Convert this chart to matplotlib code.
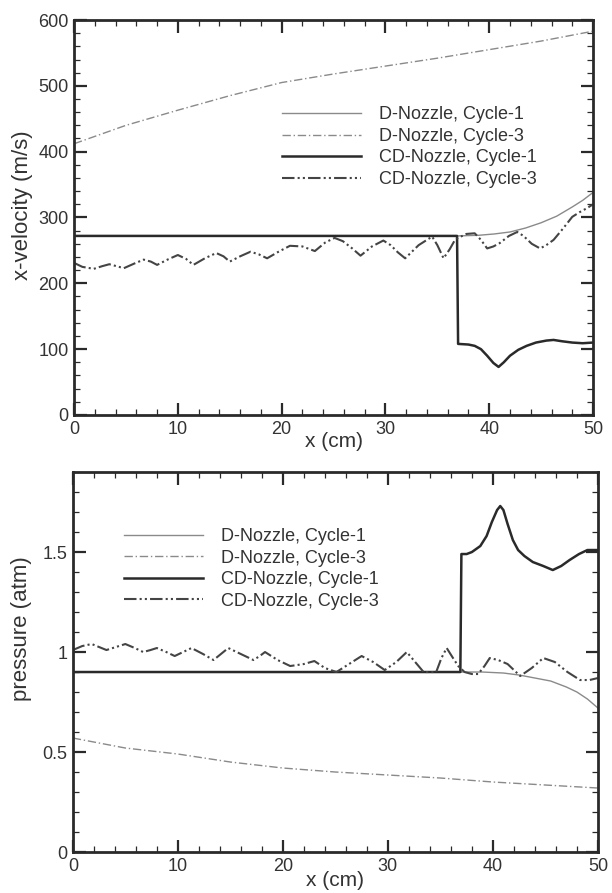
import matplotlib
matplotlib.use("Agg")
import matplotlib.pyplot as plt
from matplotlib.ticker import MultipleLocator

plt.rcParams["font.family"] = ["Liberation Sans", "DejaVu Sans"]

# ---- x-velocity (m/s) ----
x_dc1_v = [0, 37, 39, 40.5, 42, 43.5, 45, 46.5, 48, 49, 50]
dc1_v = [272, 272, 273, 275, 278, 284, 292, 302, 316, 326, 338]

x_dc3_v = [0, 5, 10, 15, 20, 25, 30, 35, 40, 45, 50]
dc3_v = [412, 440, 463, 485, 505, 518, 530, 542, 555, 568, 583]

x_cdc1_v = [0, 36.9, 37.0, 38.0, 38.6, 39.2, 39.8, 40.4, 40.9, 41.4, 42.0,
            42.8, 43.6, 44.5, 45.5, 46.2, 47.0, 48.0, 49.0, 50]
cdc1_v = [272, 272, 108, 107, 105, 100, 90, 79, 73, 80, 90,
          99, 105, 110, 113, 114, 112, 110, 109, 110]

x_cdc3_v = [0, 0.8, 1.9, 2.7, 3.4, 4.1, 4.8, 5.8, 6.7, 7.4,
            8.0, 9.0, 10.0, 10.8, 11.5, 12.6, 13.7, 14.4, 15.0, 16.0,
            17.0, 17.8, 18.6, 19.7, 20.8, 22.0, 23.2, 24.2, 25.1, 25.9,
            26.8, 27.6, 28.7, 29.8, 30.5, 31.2, 31.9, 33.2, 34.5, 35.0,
            35.6, 36.2, 36.7, 37.0, 37.8, 38.6, 39.2, 39.8, 40.4, 41.0,
            41.9, 42.7, 43.3, 44.1, 44.9, 45.5, 46.2, 47.1, 48.0, 48.7,
            49.4, 50]
cdc3_v = [231, 225, 222, 226, 229, 226, 223, 230, 236, 233,
          228, 236, 243, 237, 228, 238, 246, 241, 233, 241,
          248, 244, 238, 248, 257, 256, 249, 262, 269, 264,
          253, 242, 256, 265, 258, 247, 238, 258, 271, 258,
          238, 252, 266, 269, 275, 276, 266, 253, 256, 261,
          272, 278, 272, 260, 253, 258, 266, 283, 301, 308,
          314, 320]

# ---- pressure (atm) ----
x_dc1_p = [0, 39, 41, 42.5, 44, 45.5, 47, 48, 49, 50]
dc1_p = [0.90, 0.90, 0.895, 0.885, 0.87, 0.855, 0.825, 0.80, 0.765, 0.72]

x_dc3_p = [0, 5, 10, 15, 20, 25, 30, 35, 40, 45, 50]
dc3_p = [0.57, 0.52, 0.49, 0.45, 0.42, 0.40, 0.385, 0.37, 0.35, 0.335, 0.32]

x_cdc1_p = [0, 36.9, 37.0, 37.5, 38.0, 38.8, 39.4, 39.9, 40.4, 40.7, 41.0,
            41.4, 41.9, 42.4, 43.0, 43.8, 44.8, 45.7, 46.5, 47.3, 48.2, 49.0, 50]
cdc1_p = [0.90, 0.90, 1.49, 1.49, 1.50, 1.53, 1.58, 1.65, 1.71, 1.73, 1.71,
          1.64, 1.56, 1.51, 1.48, 1.45, 1.43, 1.41, 1.43, 1.46, 1.49, 1.51, 1.51]

x_cdc3_p = [0, 0.9, 1.8, 2.5, 3.2, 4.1, 5.0, 5.9, 6.7, 7.4,
            8.0, 8.9, 9.7, 10.5, 11.3, 12.4, 13.4, 14.1, 14.8, 16.0,
            17.2, 17.8, 18.3, 19.5, 20.7, 22.0, 23.0, 24.0, 25.1, 26.3,
            27.5, 28.6, 29.7, 30.8, 31.8, 32.6, 33.4, 34.6, 35.1, 35.6,
            36.2, 36.7, 37.3, 38.0, 38.6, 39.2, 39.7, 40.5, 41.4, 42.0,
            42.6, 43.7, 44.8, 45.9, 47.1, 48.3, 49.2, 50]
cdc3_p = [1.01, 1.03, 1.04, 1.025, 1.01, 1.025, 1.04, 1.02, 1.00, 1.01,
          1.02, 1.00, 0.98, 1.00, 1.02, 0.99, 0.96, 0.99, 1.02, 0.99,
          0.96, 0.98, 1.00, 0.96, 0.93, 0.94, 0.955, 0.92, 0.90, 0.94,
          0.98, 0.95, 0.91, 0.95, 1.00, 0.95, 0.90, 0.90, 0.97, 1.02,
          0.97, 0.93, 0.90, 0.89, 0.89, 0.93, 0.97, 0.96, 0.94, 0.91,
          0.88, 0.92, 0.97, 0.95, 0.90, 0.86, 0.86, 0.87]

labels = ["D-Nozzle, Cycle-1", "D-Nozzle, Cycle-3",
          "CD-Nozzle, Cycle-1", "CD-Nozzle, Cycle-3"]

ink = "#2a2a2a"
grey = "#8a8a8a"
txt = "#333333"


def style_axes(ax, ymax, ymajor, yminor):
    ax.set_xlim(0, 50)
    ax.set_ylim(0, ymax)
    ax.xaxis.set_major_locator(MultipleLocator(10))
    ax.xaxis.set_minor_locator(MultipleLocator(2))
    ax.yaxis.set_major_locator(MultipleLocator(ymajor))
    ax.yaxis.set_minor_locator(MultipleLocator(yminor))
    ax.tick_params(which="both", direction="in", top=True, right=True,
                   colors=ink, labelsize=13, labelcolor=txt)
    ax.tick_params(which="major", length=9, width=1.6, pad=4)
    ax.tick_params(which="minor", length=4, width=0.9)
    for s in ax.spines.values():
        s.set_linewidth(2.0)
        s.set_color(ink)


def draw(ax, data):
    (xa, ya), (xb, yb), (xc, yc), (xd, yd) = data
    ax.plot(xa, ya, color=grey, lw=1.0, label=labels[0])
    ax.plot(xb, yb, color=grey, lw=1.0, ls=(0, (6, 2, 1, 2)), label=labels[1])
    ax.plot(xc, yc, color=ink, lw=1.8, label=labels[2])
    ax.plot(xd, yd, color="#444444", lw=1.5,
            ls=(0, (6, 1.5, 1, 1.5, 1, 1.5)), label=labels[3])


fig = plt.figure(figsize=(6.12, 8.93), dpi=100)
ax1 = fig.add_axes([0.121, 0.5353, 0.848, 0.4423])
ax2 = fig.add_axes([0.119, 0.0459, 0.858, 0.4255])

draw(ax1, [(x_dc1_v, dc1_v), (x_dc3_v, dc3_v), (x_cdc1_v, cdc1_v), (x_cdc3_v, cdc3_v)])
style_axes(ax1, 600, 100, 20)
ax1.set_xlabel("x (cm)", fontsize=15, color=txt)
ax1.xaxis.set_label_coords(0.5, -0.066)
ax1.xaxis.label.set_va("center")
ax1.set_ylabel("x-velocity (m/s)", fontsize=16, color=txt)
ax1.yaxis.set_label_coords(-0.100, 0.53)
ax1.yaxis.label.set_va("center")
ax1.legend(loc="center left", bbox_to_anchor=(0.40, 0.678), frameon=False,
           fontsize=13, handlelength=4.4, handletextpad=1.0, labelspacing=0.25,
           borderaxespad=0, borderpad=0, labelcolor=txt)

draw(ax2, [(x_dc1_p, dc1_p), (x_dc3_p, dc3_p), (x_cdc1_p, cdc1_p), (x_cdc3_p, cdc3_p)])
style_axes(ax2, 1.9, 0.5, 0.1)
ax2.set_yticks([0, 0.5, 1, 1.5])
ax2.set_yticklabels(["0", "0.5", "1", "1.5"])
ax2.set_xlabel("x (cm)", fontsize=15, color=txt)
ax2.xaxis.set_label_coords(0.5, -0.074)
ax2.xaxis.label.set_va("center")
ax2.set_ylabel("pressure (atm)", fontsize=16, color=txt)
ax2.yaxis.set_label_coords(-0.097, 0.587)
ax2.yaxis.label.set_va("center")
ax2.legend(loc="center left", bbox_to_anchor=(0.097, 0.745), frameon=False,
           fontsize=13, handlelength=4.4, handletextpad=1.0, labelspacing=0.25,
           borderaxespad=0, borderpad=0, labelcolor=txt)

fig.savefig("out.png", dpi=100)
